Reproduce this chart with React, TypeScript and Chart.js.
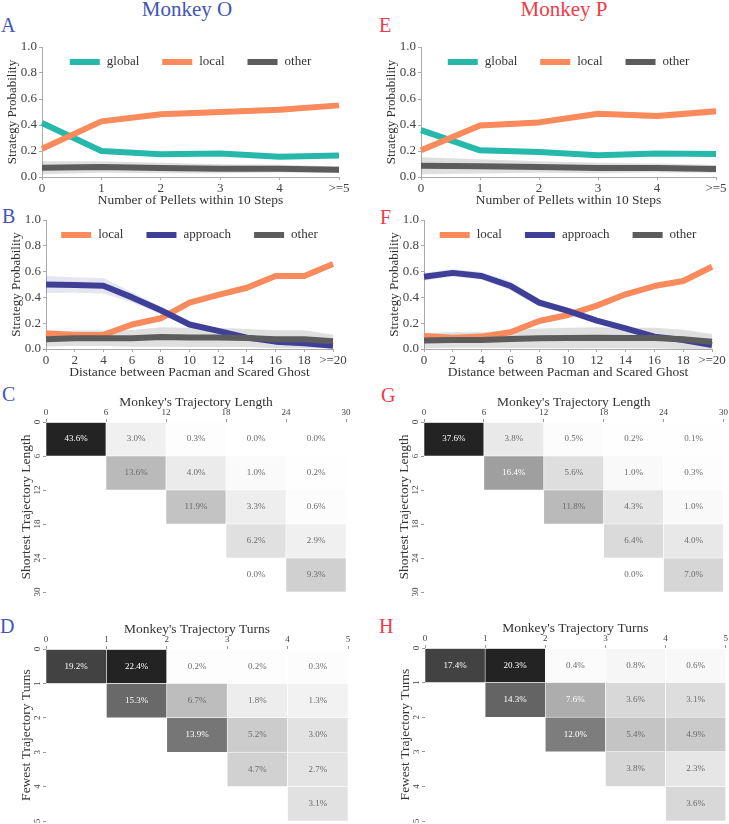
import React, { useEffect, useRef } from "react";
import { Chart, registerables } from "chart.js";

Chart.register(...registerables);

const SERIF = "'Liberation Serif', 'DejaVu Serif', serif";
Chart.defaults.font.family = SERIF;

// ---------- Panels A / E : strategy vs number of pellets ----------
const pelletLabels = ["0", "1", "2", "3", "4", ">=5"];
const oGlobalPellet = [0.415, 0.2, 0.175, 0.18, 0.155, 0.165];
const oLocalPellet = [0.218, 0.428, 0.482, 0.5, 0.518, 0.551];
const oOtherPellet = [0.072, 0.077, 0.069, 0.064, 0.064, 0.056];
const oGlobalPelletErr = [0.015, 0.015, 0.012, 0.012, 0.01, 0.01];
const oLocalPelletErr = [0.012, 0.02, 0.02, 0.015, 0.015, 0.015];
const oOtherPelletErr = [0.05, 0.045, 0.04, 0.035, 0.03, 0.025];

const pGlobalPellet = [0.36, 0.205, 0.192, 0.167, 0.18, 0.177];
const pLocalPellet = [0.205, 0.397, 0.42, 0.487, 0.47, 0.505];
const pOtherPellet = [0.087, 0.082, 0.077, 0.069, 0.069, 0.062];
const pGlobalPelletErr = [0.02, 0.025, 0.015, 0.012, 0.012, 0.012];
const pLocalPelletErr = [0.015, 0.02, 0.025, 0.02, 0.025, 0.03];
const pOtherPelletErr = [0.065, 0.055, 0.045, 0.04, 0.035, 0.03];

// ---------- Panels B / F : strategy vs distance to scared ghost ----------
const distanceLabels = ["0", "2", "4", "6", "8", "10", "12", "14", "16", "18", ">=20"];
const oLocalDist = [0.122, 0.109, 0.109, 0.19, 0.238, 0.36, 0.419, 0.475, 0.566, 0.566, 0.659];
const oApproachDist = [0.5, 0.496, 0.49, 0.4, 0.3, 0.19, 0.14, 0.088, 0.057, 0.044, 0.026];
const oOtherDist = [0.075, 0.083, 0.083, 0.083, 0.093, 0.09, 0.09, 0.085, 0.075, 0.075, 0.06];
const oLocalDistErr = [0.015, 0.012, 0.012, 0.015, 0.015, 0.015, 0.015, 0.015, 0.02, 0.02, 0.02];
const oApproachDistErr = [0.065, 0.06, 0.06, 0.04, 0.03, 0.02, 0.015, 0.015, 0.012, 0.012, 0.012];
const oOtherDistErr = [0.055, 0.06, 0.06, 0.065, 0.075, 0.075, 0.075, 0.07, 0.07, 0.07, 0.05];

const pLocalDist = [0.1, 0.088, 0.096, 0.13, 0.217, 0.264, 0.336, 0.424, 0.488, 0.527, 0.638];
const pApproachDist = [0.56, 0.59, 0.566, 0.49, 0.36, 0.295, 0.22, 0.16, 0.096, 0.07, 0.031];
const pOtherDist = [0.065, 0.07, 0.07, 0.078, 0.083, 0.085, 0.088, 0.085, 0.085, 0.075, 0.057];
const pLocalDistErr = [0.015, 0.012, 0.012, 0.012, 0.015, 0.015, 0.015, 0.015, 0.015, 0.015, 0.02];
const pApproachDistErr = [0.03, 0.03, 0.03, 0.035, 0.03, 0.02, 0.015, 0.015, 0.012, 0.01, 0.01];
const pOtherDistErr = [0.06, 0.06, 0.06, 0.07, 0.075, 0.08, 0.08, 0.08, 0.08, 0.075, 0.06];

// ---------- Panels C / G : trajectory length heatmaps ----------
const lengthEdges = [0, 6, 12, 18, 24, 30];
const oLengthMatrix = [
  [43.6, 3.0, 0.3, 0.0, 0.0],
  [null, 13.6, 4.0, 1.0, 0.2],
  [null, null, 11.9, 3.3, 0.6],
  [null, null, null, 6.2, 2.9],
  [null, null, null, 0.0, 9.3],
];
const pLengthMatrix = [
  [37.6, 3.8, 0.5, 0.2, 0.1],
  [null, 16.4, 5.6, 1.0, 0.3],
  [null, null, 11.8, 4.3, 1.0],
  [null, null, null, 6.4, 4.0],
  [null, null, null, 0.0, 7.0],
];

// ---------- Panels D / H : trajectory turns heatmaps ----------
const turnEdges = [0, 1, 2, 3, 4, 5];
const oTurnMatrix = [
  [19.2, 22.4, 0.2, 0.2, 0.3],
  [null, 15.3, 6.7, 1.8, 1.3],
  [null, null, 13.9, 5.2, 3.0],
  [null, null, null, 4.7, 2.7],
  [null, null, null, null, 3.1],
];
const pTurnMatrix = [
  [17.4, 20.3, 0.4, 0.8, 0.6],
  [null, 14.3, 7.6, 3.6, 3.1],
  [null, null, 12.0, 5.4, 4.9],
  [null, null, null, 3.8, 2.3],
  [null, null, null, null, 3.6],
];

const COLORS = {
  global: "#25b8ab",
  local: "#f98a5c",
  approach: "#403f98",
  other: "#5c5c5c",
};
const BANDS = {
  global: "rgba(37,184,171,0.15)",
  local: "rgba(249,138,92,0.15)",
  approach: "rgba(64,63,152,0.13)",
  other: "rgba(128,128,128,0.25)",
};

const TICK_COLOR = "#444";
const AXIS_COLOR = "#aaa";
const Y_AXIS_W = 42;
const X_AXIS_H = 34;

type Series = { label: string; key: keyof typeof COLORS; values: number[]; err: number[] };
type Box = { left: number; top: number; width: number; height: number };
type Area = { l: number; t: number; r: number; b: number };

const inlineLegend = {
  id: "inlineLegend",
  afterDatasetsDraw(chart: any) {
    const { ctx, chartArea } = chart;
    const items = chart.data.datasets.filter((d: any) => !String(d.label).startsWith("_"));
    ctx.save();
    ctx.font = `13px ${SERIF}`;
    const box = 30;
    const gap = 7;
    const pad = 23;
    const widths = items.map((d: any) => box + gap + ctx.measureText(d.label).width);
    const total = widths.reduce((a: number, b: number) => a + b, 0) + pad * (items.length - 1);
    let x = (chartArea.left + chartArea.right) / 2 - total / 2;
    const y = chartArea.top + 15;
    items.forEach((d: any, i: number) => {
      ctx.fillStyle = d.borderColor;
      ctx.fillRect(x, y - 3, box, 6);
      ctx.fillStyle = "#333";
      ctx.textBaseline = "middle";
      ctx.textAlign = "left";
      ctx.fillText(d.label, x + box + gap, y);
      x += widths[i] + pad;
    });
    ctx.restore();
  },
};

function LinePanel({ box, area, labels, series, xTitle }: { box: Box; area: Area; labels: string[]; series: Series[]; xTitle: string }) {
  const ref = useRef<HTMLCanvasElement | null>(null);
  useEffect(() => {
    const datasets: any[] = [];
    series.forEach((s, i) => {
      datasets.push({
        label: "_hi" + i,
        data: s.values.map((v, j) => v + s.err[j]),
        borderWidth: 0,
        pointRadius: 0,
        fill: false,
        order: 20,
      });
      datasets.push({
        label: "_lo" + i,
        data: s.values.map((v, j) => v - s.err[j]),
        borderWidth: 0,
        pointRadius: 0,
        fill: "-1",
        backgroundColor: BANDS[s.key],
        order: 20,
      });
      datasets.push({
        label: s.label,
        data: s.values,
        borderColor: COLORS[s.key],
        backgroundColor: COLORS[s.key],
        borderWidth: 6,
        pointRadius: 0,
        fill: false,
        tension: 0,
        borderJoinStyle: "round",
        borderCapStyle: "butt",
        order: series.length - i,
      });
    });
    const chart = new Chart(ref.current as HTMLCanvasElement, {
      type: "line",
      data: { labels, datasets },
      options: {
        responsive: false,
        animation: false,
        events: [],
        layout: {
          padding: {
            left: area.l - Y_AXIS_W,
            top: area.t,
            right: box.width - area.r,
            bottom: box.height - area.b - X_AXIS_H,
          },
        },
        plugins: { legend: { display: false }, tooltip: { enabled: false } },
        scales: {
          x: {
            type: "category",
            offset: false,
            grid: { display: true, drawOnChartArea: false, drawTicks: true, tickLength: 3, color: AXIS_COLOR, offset: false },
            border: { display: true, color: AXIS_COLOR, width: 1 },
            ticks: { font: { size: 13 }, color: TICK_COLOR, padding: 1, autoSkip: false, maxRotation: 0, minRotation: 0 },
            title: { display: true, text: xTitle, font: { size: 13.5 }, color: "#333", padding: 2 },
            afterFit: (s: any) => {
              s.height = X_AXIS_H;
            },
          },
          y: {
            type: "linear",
            min: 0,
            max: 1,
            grid: { display: true, drawOnChartArea: false, drawTicks: true, tickLength: 3, color: AXIS_COLOR },
            border: { display: true, color: AXIS_COLOR, width: 1 },
            ticks: { stepSize: 0.2, font: { size: 13 }, color: TICK_COLOR, padding: 2, callback: (v: any) => Number(v).toFixed(1) },
            title: { display: true, text: "Strategy Probability", font: { size: 13 }, color: "#333", padding: 5 },
            afterFit: (s: any) => {
              s.width = Y_AXIS_W;
            },
          },
        },
      } as any,
      plugins: [inlineLegend],
    });
    return () => chart.destroy();
  }, []);
  return (
    <canvas
      ref={ref}
      width={box.width}
      height={box.height}
      style={{ position: "absolute", left: box.left, top: box.top, width: box.width, height: box.height }}
    />
  );
}

const shade = (t: number) => {
  const g = Math.round(255 - 220 * t);
  return `rgb(${g},${g},${g})`;
};
const textShade = (t: number) => (255 - 220 * t < 180 ? "#ffffff" : "#6a6a6a");

function HeatPanel({ box, area, edges, values, xTitle, yTitle }: { box: Box; area: Area; edges: number[]; values: (number | null)[][]; xTitle: string; yTitle: string }) {
  const ref = useRef<HTMLCanvasElement | null>(null);
  useEffect(() => {
    const flat = values.flat().filter((v) => v != null) as number[];
    const max = Math.max(...flat);
    const cells: any[] = [];
    values.forEach((row, r) =>
      row.forEach((v, c) => {
        if (v != null) cells.push({ x: (edges[c] + edges[c + 1]) / 2, y: [edges[r], edges[r + 1]], v });
      })
    );
    const cellLabels = {
      id: "cellLabels",
      afterDatasetsDraw(chart: any) {
        const { ctx, scales } = chart;
        ctx.save();
        ctx.font = `9px ${SERIF}`;
        ctx.textAlign = "center";
        ctx.textBaseline = "middle";
        cells.forEach((d) => {
          const px = scales.x.getPixelForValue(d.x);
          const py = scales.y.getPixelForValue((d.y[0] + d.y[1]) / 2);
          ctx.fillStyle = textShade(d.v / max);
          ctx.fillText(d.v.toFixed(1) + "%", px, py);
        });
        ctx.restore();
      },
    };
    const yTickLabels = {
      id: "yTickLabels",
      afterDraw(chart: any) {
        const { ctx, scales, chartArea } = chart;
        ctx.save();
        ctx.font = `9px ${SERIF}`;
        ctx.fillStyle = TICK_COLOR;
        ctx.textAlign = "center";
        ctx.textBaseline = "middle";
        scales.y.ticks.forEach((t: any) => {
          const py = scales.y.getPixelForValue(t.value);
          ctx.save();
          ctx.translate(chartArea.left - 8, py);
          ctx.rotate(-Math.PI / 2);
          ctx.fillText(String(t.value), 0, 0);
          ctx.restore();
        });
        ctx.restore();
      },
    };
    const setTicks = (s: any) => {
      s.ticks = edges.map((v) => ({ value: v }));
    };
    const chart = new Chart(ref.current as HTMLCanvasElement, {
      type: "bar",
      data: {
        datasets: [
          {
            data: cells,
            backgroundColor: (ctx: any) => shade(ctx.raw ? ctx.raw.v / max : 0),
            borderColor: "#ffffff",
            borderWidth: 0.6,
            borderSkipped: false,
            barPercentage: 1,
            categoryPercentage: 1,
            grouped: false,
          },
        ],
      },
      options: {
        responsive: false,
        animation: false,
        events: [],
        layout: {
          padding: {
            left: area.l - 30,
            top: area.t - 30,
            right: box.width - area.r,
            bottom: box.height - area.b,
          },
        },
        plugins: { legend: { display: false }, tooltip: { enabled: false } },
        scales: {
          x: {
            type: "linear",
            position: "top",
            min: edges[0],
            max: edges[edges.length - 1],
            offset: false,
            afterBuildTicks: setTicks,
            grid: { display: true, drawOnChartArea: false, drawTicks: true, tickLength: 3, color: "#999", offset: false },
            border: { display: false },
            ticks: { font: { size: 9 }, color: TICK_COLOR, padding: 1, maxRotation: 0, minRotation: 0, autoSkip: false },
            title: { display: true, text: xTitle, font: { size: 13.5 }, color: "#333", padding: 2 },
            afterFit: (s: any) => {
              s.height = 30;
            },
          },
          y: {
            type: "linear",
            reverse: true,
            min: edges[0],
            max: edges[edges.length - 1],
            afterBuildTicks: setTicks,
            grid: { display: true, drawOnChartArea: false, drawTicks: true, tickLength: 3, color: "#999" },
            border: { display: false },
            ticks: { display: false },
            title: { display: true, text: yTitle, font: { size: 13.5 }, color: "#333", padding: 2 },
            afterFit: (s: any) => {
              s.width = 30;
            },
          },
        },
      } as any,
      plugins: [cellLabels, yTickLabels],
    });
    return () => chart.destroy();
  }, []);
  return (
    <canvas
      ref={ref}
      width={box.width}
      height={box.height}
      style={{ position: "absolute", left: box.left, top: box.top, width: box.width, height: box.height }}
    />
  );
}

const BLUE = "#3f55b8";
const RED = "#ef3b49";

function Letter({ text, left, baseline, color }: { text: string; left: number; baseline: number; color: string }) {
  return (
    <div style={{ position: "absolute", left, top: baseline - 16.8, fontSize: 20, lineHeight: "20px", fontFamily: SERIF, color }}>
      {text}
    </div>
  );
}

export default function App() {
  const oPellet: Series[] = [
    { label: "global", key: "global", values: oGlobalPellet, err: oGlobalPelletErr },
    { label: "local", key: "local", values: oLocalPellet, err: oLocalPelletErr },
    { label: "other", key: "other", values: oOtherPellet, err: oOtherPelletErr },
  ];
  const pPellet: Series[] = [
    { label: "global", key: "global", values: pGlobalPellet, err: pGlobalPelletErr },
    { label: "local", key: "local", values: pLocalPellet, err: pLocalPelletErr },
    { label: "other", key: "other", values: pOtherPellet, err: pOtherPelletErr },
  ];
  const oDist: Series[] = [
    { label: "local", key: "local", values: oLocalDist, err: oLocalDistErr },
    { label: "approach", key: "approach", values: oApproachDist, err: oApproachDistErr },
    { label: "other", key: "other", values: oOtherDist, err: oOtherDistErr },
  ];
  const pDist: Series[] = [
    { label: "local", key: "local", values: pLocalDist, err: pLocalDistErr },
    { label: "approach", key: "approach", values: pApproachDist, err: pApproachDistErr },
    { label: "other", key: "other", values: pOtherDist, err: pOtherDistErr },
  ];
  return (
    <div style={{ position: "absolute", left: 0, top: 0, width: 729, height: 824, background: "#fff", overflow: "hidden" }}>
      <div style={{ position: "absolute", left: 87, top: -1, width: 200, textAlign: "center", fontSize: 21, lineHeight: "21px", fontFamily: SERIF, color: BLUE }}>
        Monkey O
      </div>
      <div style={{ position: "absolute", left: 464, top: -1, width: 200, textAlign: "center", fontSize: 21, lineHeight: "21px", fontFamily: SERIF, color: RED }}>
        Monkey P
      </div>
      <Letter text="A" left={1} baseline={32} color={BLUE} />
      <Letter text="E" left={379} baseline={32} color={RED} />
      <Letter text="B" left={2} baseline={223} color={BLUE} />
      <Letter text="F" left={380} baseline={224} color={RED} />
      <Letter text="C" left={2} baseline={401} color={BLUE} />
      <Letter text="G" left={381} baseline={402} color={RED} />
      <Letter text="D" left={0} baseline={633} color={BLUE} />
      <Letter text="H" left={379} baseline={633} color={RED} />

      <LinePanel box={{ left: 0, top: 35, width: 364, height: 177 }} area={{ l: 42, t: 12, r: 339, b: 142 }} labels={pelletLabels} series={oPellet} xTitle="Number of Pellets within 10 Steps" />
      <LinePanel box={{ left: 364, top: 35, width: 365, height: 177 }} area={{ l: 57, t: 12, r: 352, b: 142 }} labels={pelletLabels} series={pPellet} xTitle="Number of Pellets within 10 Steps" />
      <LinePanel box={{ left: 0, top: 205, width: 364, height: 179 }} area={{ l: 46, t: 15, r: 333, b: 144 }} labels={distanceLabels} series={oDist} xTitle="Distance between Pacman and Scared Ghost" />
      <LinePanel box={{ left: 364, top: 205, width: 365, height: 179 }} area={{ l: 60, t: 15, r: 348, b: 144 }} labels={distanceLabels} series={pDist} xTitle="Distance between Pacman and Scared Ghost" />

      <HeatPanel box={{ left: 0, top: 385, width: 364, height: 215 }} area={{ l: 46, t: 37, r: 346, b: 207 }} edges={lengthEdges} values={oLengthMatrix} xTitle="Monkey's Trajectory Length" yTitle="Shortest Trajectory Length" />
      <HeatPanel box={{ left: 364, top: 385, width: 365, height: 215 }} area={{ l: 60, t: 37, r: 360, b: 207 }} edges={lengthEdges} values={pLengthMatrix} xTitle="Monkey's Trajectory Length" yTitle="Shortest Trajectory Length" />
      <HeatPanel box={{ left: 0, top: 612, width: 364, height: 212 }} area={{ l: 46, t: 37, r: 348, b: 209 }} edges={turnEdges} values={oTurnMatrix} xTitle="Monkey's Trajectory Turns" yTitle="Fewest Trajectory Turns" />
      <HeatPanel box={{ left: 364, top: 611, width: 365, height: 213 }} area={{ l: 61, t: 37, r: 363, b: 210 }} edges={turnEdges} values={pTurnMatrix} xTitle="Monkey's Trajectory Turns" yTitle="Fewest Trajectory Turns" />
    </div>
  );
}
